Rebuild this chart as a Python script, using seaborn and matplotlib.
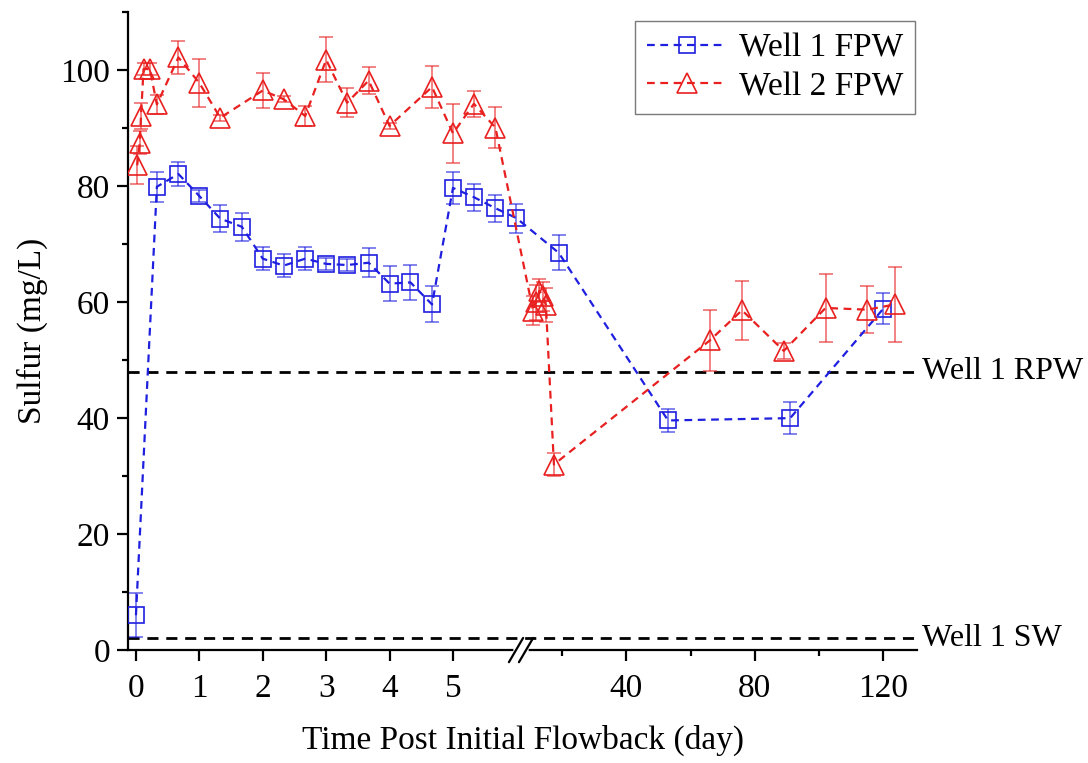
import numpy as np
import pandas as pd
import matplotlib
matplotlib.use("Agg")
import matplotlib.pyplot as plt
import seaborn as sns
from matplotlib.ticker import MultipleLocator, FixedLocator

# Values
well1_day = [0, 0.33, 0.67, 1, 1.33, 1.67, 2, 2.33, 2.67, 3, 3.33, 3.67, 4, 4.33,
             4.67, 5, 5.33, 5.67, 6, 19, 53, 91, 120]
well1_sulfur = [6.0, 79.9, 82.1, 78.3, 74.4, 73.0, 67.5, 66.3, 67.5, 66.6, 66.4, 66.8,
                63.2, 63.4, 59.6, 79.7, 78.1, 76.2, 74.5, 68.5, 39.6, 40.0, 58.9]
well1_err = [3.8, 2.6, 2.0, 1.0, 2.3, 2.4, 2.0, 2.0, 2.0, 1.0, 1.0, 2.5, 3.0, 3.0,
             3.1, 2.7, 2.3, 2.3, 2.5, 3.0, 2.0, 2.8, 2.75]

well2_day = [0.02, 0.06, 0.08, 0.12, 0.22, 0.33, 0.67, 1, 1.33, 2, 2.33, 2.67, 3,
             3.33, 3.67, 4, 4.67, 5, 5.33, 5.67, 11, 12, 13, 14, 15, 17.5, 66, 76,
             89, 102, 115, 123.5]
well2_sulfur = [83.6, 87.5, 92.1, 100.2, 100.2, 94.1, 102.2, 97.8, 91.8, 96.5, 95.0,
                92.1, 101.8, 94.4, 98.2, 90.4, 97.1, 89.1, 94.2, 90.1, 58.5, 60.0,
                62.0, 61.0, 59.5, 32.0, 53.4, 58.6, 51.6, 59.0, 58.7, 59.6]
well2_err = [3.3, 2.0, 2.2, 1.0, 1.0, 1.6, 2.8, 4.2, 0.5, 3.0, 0.5, 1.7, 3.9, 2.5,
             2.3, 0.5, 3.6, 5.1, 2.2, 3.5, 2.5, 3.0, 2.0, 2.5, 3.0, 2.0, 5.2, 5.1,
             1.4, 5.8, 4.1, 6.4]

ref_names = ["Well 1 RPW", "Well 1 SW"]
ref_values = [48, 2]

xtick_values = [0, 1, 2, 3, 4, 5, 40, 80, 120]
xtick_labels = ["0", "1", "2", "3", "4", "5", "40", "80", "120"]
xminor_values = [20, 60, 100]

df1 = pd.DataFrame({"day": well1_day, "sulfur": well1_sulfur, "err": well1_err})
df2 = pd.DataFrame({"day": well2_day, "sulfur": well2_sulfur, "err": well2_err})

# broken x axis: days 0-6 on the left, 7-130 compressed on the right
BREAK_LO, BREAK_HI, K = 6.06, 7.0, 0.0507


def fwd(x):
    x = np.asarray(x, dtype=float)
    return np.where(x <= BREAK_LO, x, BREAK_LO + np.clip(x - BREAK_HI, 0, None) * K)


def inv(u):
    u = np.asarray(u, dtype=float)
    return np.where(u <= BREAK_LO, u, BREAK_HI + (u - BREAK_LO) / K)


sns.set_style("ticks")
plt.rcParams["font.family"] = ["Liberation Serif", "DejaVu Serif"]
for key in ["text.color", "axes.labelcolor", "xtick.color", "ytick.color", "axes.edgecolor"]:
    plt.rcParams[key] = "black"

fig, ax = plt.subplots(figsize=(10.88, 7.63), dpi=100)
fig.subplots_adjust(left=0.1176, right=0.843, bottom=0.148, top=0.984)
ax.set_xscale("function", functions=(fwd, inv))

series = [
    (df1, "Well 1 FPW", "#1f1fe0", "s", 11),
    (df2, "Well 2 FPW", "#e82020", "^", 14),
]
for df, name, color, marker, ms in series:
    ax.errorbar(df["day"], df["sulfur"], yerr=df["err"], fmt="none", ecolor=color,
                alpha=0.6, elinewidth=1.3, capsize=5, capthick=1.3, zorder=2)
    sns.lineplot(data=df, x="day", y="sulfur", ax=ax, color=color, marker=marker,
                 markersize=ms, mfc="none", mec=color, mew=1.2, lw=1.6,
                 ls=(0, (3.5, 2.5)), label=name, sort=False, estimator=None, zorder=3)

# reference levels
for name, val in zip(ref_names, ref_values):
    ax.axhline(val, color="black", lw=2, ls=(0, (4, 2.8)), zorder=1)
    ax.text(1.006, val, name, transform=ax.get_yaxis_transform(), va="center",
            ha="left", fontsize=23)

ax.set_xlim(-0.126, 130.5)
ax.set_ylim(0, 110)
ax.set_xticks(xtick_values, labels=xtick_labels)
ax.xaxis.set_minor_locator(FixedLocator(xminor_values))
ax.yaxis.set_major_locator(MultipleLocator(20))
ax.yaxis.set_minor_locator(MultipleLocator(10))

ax.set_xlabel("Time Post Initial Flowback (day)", fontsize=24, labelpad=15)
ax.set_ylabel("Sulfur (mg/L)", fontsize=24, labelpad=9)
ax.tick_params(which="major", direction="out", length=8, width=1.6, labelsize=24)
ax.tick_params(axis="x", which="major", pad=9)
ax.tick_params(axis="y", which="major", pad=5)
ax.tick_params(which="minor", direction="out", length=4, width=1.6)
sns.despine(ax=ax)
for side in ["left", "bottom"]:
    ax.spines[side].set_linewidth(1.6)

# break marks on the x axis
ax.plot([0.4917, 0.5044], [0, 0], color="white", lw=4, transform=ax.transAxes,
        clip_on=False, zorder=5)
for xc in [0.4917, 0.5044]:
    ax.plot([xc - 0.009, xc + 0.009], [-0.019, 0.019], color="black", lw=1.6,
            transform=ax.transAxes, clip_on=False, zorder=6)

leg = ax.legend(loc="upper right", bbox_to_anchor=(0.997, 0.986), fontsize=24,
                frameon=True, fancybox=False, edgecolor="0.35", handlelength=2.4,
                handletextpad=0.35, labelspacing=0.25, borderpad=0.35,
                borderaxespad=0)
leg.get_frame().set_linewidth(1.0)

fig.savefig("out.png", dpi=100)
